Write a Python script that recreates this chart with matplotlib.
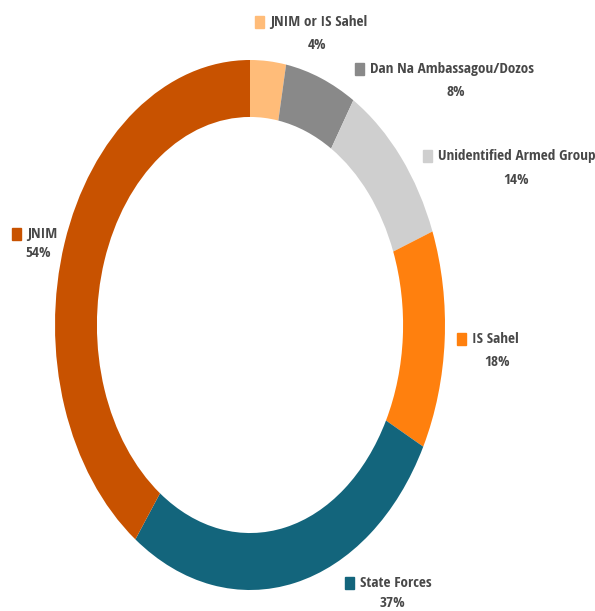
import matplotlib
matplotlib.use("Agg")
import matplotlib.pyplot as plt
from matplotlib.transforms import Affine2D
from matplotlib.patches import Rectangle

categories = ["JNIM or IS Sahel", "Dan Na Ambassagou/Dozos", "Unidentified Armed Group",
              "IS Sahel", "State Forces", "JNIM"]
values = [4, 8, 14, 18, 37, 54]
pct_labels = ["4%", "8%", "14%", "18%", "37%", "54%"]
colors = ["#FFBC79", "#898989", "#CFCFCF", "#FF800E", "#13657C", "#C85200"]

W, H = 595, 611
fig = plt.figure(figsize=(W / 100, H / 100), dpi=100)
ax = fig.add_axes([0, 0, 1, 1])

cx, cy, rx, ry = 250, 325, 195, 265

ax.pie(values, colors=colors, startangle=90, counterclock=False, radius=1,
       wedgeprops=dict(width=0.215, linewidth=0), normalize=True)
ax.set_aspect("auto")
ax.set_xlim(-cx / rx, (W - cx) / rx)
ax.set_ylim((cy - H) / ry, cy / ry)
ax.axis("off")

# pixel transform (origin top-left)
pix = Affine2D().scale(1 / W, -1 / H).translate(0, 1) + fig.transFigure

# label positions: (square left x, label center y, pct center x, pct center y)
label_pos = [(255, 22, 317, 45), (355, 69, 456, 92), (423, 156, 516, 180),
             (457, 339, 497, 362), (345, 583, 392, 603), (12, 234, 38, 253)]

font = ["Open Sans Condensed", "Open Sans"]
txtcol = "#484848"
for cat, pct, col, (sx, ly, px, py) in zip(categories, pct_labels, colors, label_pos):
    fig.patches.append(Rectangle((sx, ly - 6), 9, 12, transform=pix, color=col))
    fig.text(sx + 15, ly, cat, transform=pix, ha="left", va="center",
             fontsize=11, color=txtcol, family=font)
    fig.text(px, py, pct, transform=pix, ha="center", va="center",
             fontsize=11, color=txtcol, family=font)

fig.savefig("out.png", dpi=100, facecolor="white")
